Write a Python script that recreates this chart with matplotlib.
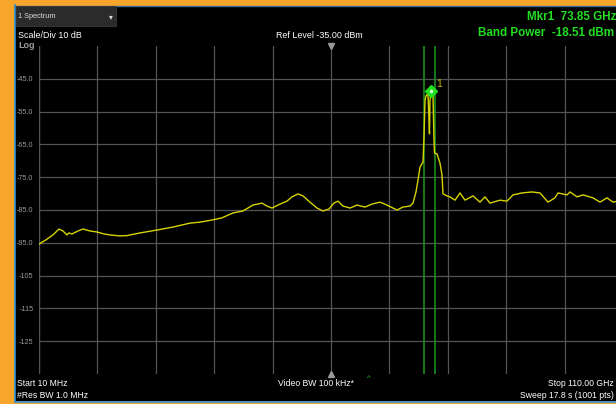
import matplotlib
matplotlib.use("Agg")
import matplotlib.pyplot as plt
from matplotlib.patches import Rectangle
from matplotlib.lines import Line2D

# ---- data ----
freq_ghz = [0.01, 1.32, 2.64, 3.77, 4.52, 5.27, 5.65, 6.22, 7.35, 8.29, 9.61, 10.92,
            12.24, 13.37, 15.26, 16.58, 19.02, 22.23, 25.24, 28.44, 30.33, 32.77,
            34.47, 36.54, 38.42, 40.31, 42.0, 42.95, 43.89, 45.39, 46.71, 47.65,
            48.79, 49.73, 51.04, 52.36, 53.49, 54.62, 55.56, 56.32, 57.26, 58.58,
            59.9, 61.41, 62.72, 64.23, 65.55, 66.68, 67.43, 68.56, 69.88, 70.45,
            71.01, 71.39, 71.77, 72.33, 72.52, 72.71, 72.9, 73.27, 73.46, 73.55,
            73.65, 73.85, 74.21, 74.4, 74.5, 74.97, 75.53, 75.91, 76.1, 76.85,
            77.42, 78.36, 79.3, 80.24, 81.75, 83.07, 84.01, 84.95, 86.84, 88.15,
            89.28, 90.98, 92.86, 94.37, 95.88, 97.19, 97.76, 99.45, 100.02, 101.34,
            102.47, 104.35, 105.67, 106.99, 108.12, 110.0]
level_dbm = [-95.4, -94.1, -92.6, -90.8, -91.4, -92.6, -92.0, -92.3, -91.4, -90.8, -91.4, -91.7,
             -92.3, -92.6, -92.9, -92.8, -92.0, -91.1, -90.2, -89.0, -88.7, -88.0,
             -87.4, -85.9, -85.3, -83.5, -82.9, -83.8, -84.4, -83.2, -82.3, -81.0,
             -80.1, -80.7, -82.6, -84.4, -85.3, -84.7, -82.9, -82.3, -83.8, -84.4,
             -83.5, -84.1, -83.2, -82.6, -83.5, -84.4, -85.0, -84.1, -83.8, -82.9,
             -79.5, -75.9, -71.9, -70.4, -62.7, -51.5, -50.2, -49.6, -57.6, -61.8,
             -51.5, -48.7, -49.9, -63.7, -67.6, -67.9, -70.7, -74.3, -80.1, -80.7,
             -81.0, -82.0, -79.8, -82.0, -80.7, -82.6, -81.0, -82.9, -82.0, -82.3,
             -80.4, -79.8, -79.5, -79.8, -82.6, -81.3, -79.8, -80.4, -79.5, -81.0,
             -80.4, -81.3, -82.6, -81.3, -82.6, -82.0]
ytick_vals = [-45, -55, -65, -75, -85, -95, -105, -115, -125]
ytick_labels = ["-45.0", "-55.0", "-65.0", "-75.0", "-85.0", "-95.0", "-105", "-115", "-125"]
marker_freq = 73.85
marker_level = -48.7
band_edges = [72.52, 74.59]
start_ghz, stop_ghz = 0.01, 110.0
ref_level, div_db = -35.0, 10.0

W, H = 616, 404
plt.rcParams['font.family'] = ['Liberation Sans', 'DejaVu Sans']
fig = plt.figure(figsize=(W / 100, H / 100), dpi=100, facecolor="#f7a52b")

def fx(x):
    return x / W

def fy(y):
    return 1 - y / H

# screen background
fig.patches.append(Rectangle((fx(15), fy(401)), fx(W - 15), fy(6) - fy(401),
                             transform=fig.transFigure, facecolor="black", edgecolor="none", zorder=-5))
# blue frame lines
fig.lines.append(Line2D([fx(14.5), fx(14.5)], [fy(5), fy(402)], transform=fig.transFigure,
                        color="#2f8fd6", lw=1.2, zorder=-4))
fig.lines.append(Line2D([fx(14.5), fx(W)], [fy(5.5), fy(5.5)], transform=fig.transFigure,
                        color="#3a6f9a", lw=1.0, zorder=-4))
fig.lines.append(Line2D([fx(14.5), fx(W)], [fy(401.5), fy(401.5)], transform=fig.transFigure,
                        color="#2f8fd6", lw=1.2, zorder=-4))
# header tab
fig.patches.append(Rectangle((fx(15.5), fy(26)), fx(100), fy(6.5) - fy(26),
                             transform=fig.transFigure, facecolor="#2b2b2b", edgecolor="#3a3a3a",
                             lw=0.6, zorder=-3))
fig.text(fx(18), fy(17), "1 Spectrum", color="#dddddd", fontsize=5.3, va="center", ha="left")
fig.text(fx(111), fy(17), "▾", color="#dddddd", fontsize=5.5, va="center", ha="center",
         family=['DejaVu Sans'])

# axes
left_px, right_px, top_px, bot_px = 39, 623, 46, 374
ax = fig.add_axes([fx(left_px), fy(bot_px), fx(right_px - left_px), fy(top_px) - fy(bot_px)])
ax.set_zorder(5)
ax.set_facecolor("black")
ax.set_xlim(start_ghz, stop_ghz)
ax.set_ylim(ref_level - 10 * div_db, ref_level)
xt = [start_ghz + i * (stop_ghz - start_ghz) / 10 for i in range(11)]
ax.set_xticks(xt)
ax.set_xticklabels([])
ax.set_yticks(ytick_vals)
ax.set_yticklabels(ytick_labels)
ax.tick_params(axis="both", length=0, colors="#9a9a9a", labelsize=5.2, pad=4)
ax.grid(True, color="#545454", lw=0.9)
for s in ax.spines.values():
    s.set_visible(False)
ax.axvline(start_ghz, color="#545454", lw=0.9)

# band power lines
for b in band_edges:
    ax.axvline(b, color="#1c8f1c", lw=1.2, zorder=3)

# trace
ax.plot(freq_ghz, level_dbm, color="#d6d400", lw=1.0, zorder=4)

# marker
ax.plot([marker_freq], [marker_level], marker="D", ms=6.5, color="#22e022", mec="#22e022", zorder=6)
ax.plot([marker_freq], [marker_level], marker="o", ms=2.5, color="#d8ffd8", mec="none", zorder=7)
ax.text(marker_freq + 1.0, marker_level + 1.2, "1", color="#c8b800", fontsize=7.5, zorder=7)

# center triangles
ax.plot([55.0], [ref_level], marker="v", ms=4, color="#9a9a9a", clip_on=False, zorder=5)
ax.plot([55.0], [ref_level - 10 * div_db], marker="^", ms=4, color="#9a9a9a", clip_on=False, zorder=5)

# "Log"
fig.text(fx(35), fy(46), "Log", color="#9a9a9a", fontsize=6.5, ha="right", va="center", fontweight="bold")

# header texts
fig.text(fx(18), fy(35), "Scale/Div 10 dB", color="white", fontsize=6.4, va="center", ha="left")
fig.text(fx(276), fy(35), "Ref Level -35.00 dBm", color="white", fontsize=6.4, va="center", ha="left")
fig.text(fx(527), fy(17), "Mkr1  73.85 GHz", color="#22dd22", fontsize=8.4, va="center", ha="left",
         fontweight="bold")
fig.text(fx(478), fy(33), "Band Power  -18.51 dBm", color="#22dd22", fontsize=8.4, va="center", ha="left",
         fontweight="bold")

# footer texts
fig.text(fx(17), fy(384), "Start 10 MHz", color="white", fontsize=6.2, va="center", ha="left")
fig.text(fx(17), fy(396), "#Res BW 1.0 MHz", color="white", fontsize=6.2, va="center", ha="left")
fig.text(fx(278), fy(384), "Video BW 100 kHz*", color="white", fontsize=6.2, va="center", ha="left")
fig.text(fx(614), fy(384), "Stop 110.00 GHz", color="white", fontsize=6.2, va="center", ha="right")
fig.text(fx(614), fy(396), "Sweep 17.8 s (1001 pts)", color="white", fontsize=6.2, va="center", ha="right")
fig.text(fx(369), fy(378.5), "^", color="#22cc22", fontsize=5.5, va="center", ha="center")

fig.savefig("out.png", dpi=100, facecolor=fig.get_facecolor())
